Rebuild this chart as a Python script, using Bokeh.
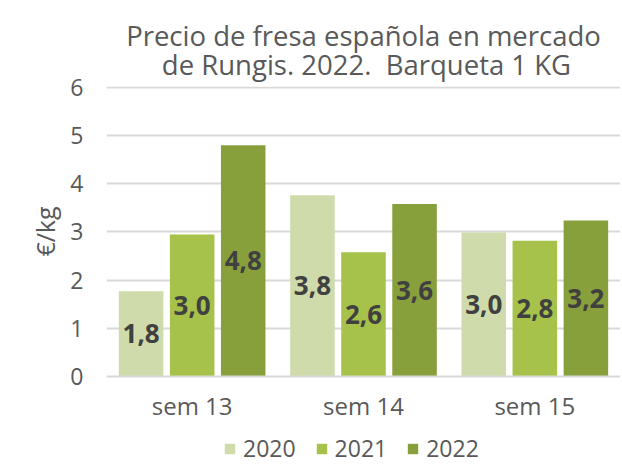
from bokeh.plotting import figure
from bokeh.layouts import column
from bokeh.models import Range1d, FixedTicker, Legend, LegendItem, ColumnDataSource
from bokeh.core.properties import value
from bokeh.transform import dodge
from bokeh.embed import file_html
from bokeh.resources import INLINE

weeks = ["sem 13", "sem 14", "sem 15"]
years = ["2020", "2021", "2022"]
v2020 = [1.77, 3.76, 2.99]
v2021 = [2.95, 2.58, 2.82]
v2022 = [4.80, 3.58, 3.24]
yticks = [0, 1, 2, 3, 4, 5, 6]
title_lines = ["Precio de fresa española en mercado", "de Rungis. 2022.  Barqueta 1 KG"]

colors = ["#CFDBAB", "#A6C24A", "#88A03C"]
FONT = "Open Sans"
TXT = "#595959"
NB = "\u00a0"

series = [v2020, v2021, v2022]
xpos = [i + 0.5 for i in range(len(weeks))]
offsets = [-0.298, 0.0, 0.298]

p = figure(frame_width=514, frame_height=290, output_backend="svg", toolbar_location=None,
           x_range=Range1d(0, 3.0), y_range=Range1d(0, 6.02),
           min_border_left=106, min_border_right=0, min_border_top=86, min_border_bottom=52)

# two centred title lines in one multi-line title (second line padded to centre it)
p.title.text = title_lines[0] + "\n" + NB * 5 + title_lines[1].replace("  ", " " + NB)
p.title.align = "center"
p.title.offset = -4
p.title.text_font = FONT
p.title.text_font_size = "27.5px"
p.title.text_font_style = "normal"
p.title.text_color = TXT
p.title.text_line_height = 0.8
p.title.standoff = 6

sources = []
for yr, vals, col, off in zip(years, series, colors, offsets):
    src = ColumnDataSource(dict(
        x=xpos, top=vals, half=[v / 2 for v in vals],
        lab=[f"{v:.1f}".replace(".", ",") for v in vals]))
    sources.append(src)
    p.vbar(x=dodge("x", off), top="top", width=0.26, source=src,
           fill_color=col, line_color=None)
    p.text(x=dodge("x", off), y="half", text="lab", source=src,
           text_font=value(FONT), text_font_style="bold", text_font_size="26px",
           text_color="#404040", text_align="center", text_baseline="middle")

p.xaxis.ticker = FixedTicker(ticks=xpos)
p.xaxis.major_label_overrides = {x: w for x, w in zip(xpos, weeks)}
p.xaxis.major_tick_line_color = None
p.xaxis.major_tick_out = 0
p.xaxis.major_tick_in = 0
p.xaxis.minor_tick_line_color = None
p.xaxis.axis_line_color = "#D9D9D9"
p.xaxis.axis_line_width = 2
p.xaxis.major_label_text_font = FONT
p.xaxis.major_label_text_font_size = "24px"
p.xaxis.major_label_text_color = TXT
p.xaxis.major_label_standoff = 12

p.yaxis.ticker = FixedTicker(ticks=yticks)
p.yaxis.axis_line_color = None
p.yaxis.major_tick_line_color = None
p.yaxis.major_tick_out = 0
p.yaxis.major_tick_in = 0
p.yaxis.minor_tick_line_color = None
p.yaxis.major_label_text_font = FONT
p.yaxis.major_label_text_font_size = "23px"
p.yaxis.major_label_text_color = TXT
p.yaxis.major_label_standoff = 23
p.yaxis.axis_label = "€/kg"
p.yaxis.axis_label_text_font = FONT
p.yaxis.axis_label_text_font_size = "25px"
p.yaxis.axis_label_text_font_style = "normal"
p.yaxis.axis_label_text_color = TXT
p.yaxis.axis_label_standoff = 5

p.xgrid.visible = False
p.ygrid.grid_line_color = "#D9D9D9"
p.ygrid.grid_line_width = 2
p.outline_line_color = None

# legend strip below the chart (its frame is aligned with the chart's frame)
pl = figure(width=620, height=38, output_backend="svg", toolbar_location=None,
            x_range=Range1d(0, 3.0), y_range=Range1d(100, 101),
            x_axis_location=None, y_axis_location=None,
            min_border_left=0, min_border_right=0, min_border_top=0, min_border_bottom=0)
pl.grid.visible = False
pl.outline_line_color = None
items = []
for yr, src, col, off in zip(years, sources, colors, offsets):
    r = pl.vbar(x=dodge("x", off), top="top", width=0.0, source=src,
                fill_color=col, line_color=None)
    items.append(LegendItem(label=yr, renderers=[r]))
legend = Legend(items=items, orientation="horizontal", location=(117, 2),
                border_line_color=None, background_fill_alpha=0,
                label_text_font=FONT, label_text_font_size="23px", label_text_color=TXT,
                glyph_width=13, glyph_height=13, label_standoff=7, spacing=19,
                padding=0, margin=0)
pl.add_layout(legend)

layout = column(p, pl, spacing=0)
open("out.html", "w").write(file_html(layout, INLINE))
